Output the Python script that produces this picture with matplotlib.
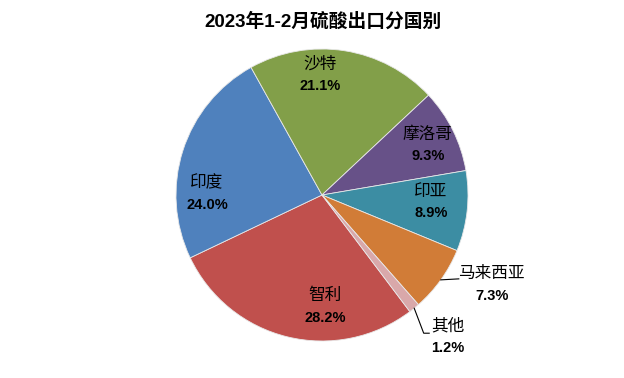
import numpy as np
import matplotlib
matplotlib.use("Agg")
import matplotlib.pyplot as plt

# ---- data ----
title = "2023年1-2月硫酸出口分国别"
categories = ["智利", "印度", "沙特", "摩洛哥", "印亚", "马来西亚", "其他"]
shares = [28.2, 24.0, 21.1, 9.3, 8.9, 7.3, 1.2]

# ---- style / layout ----
colors = ["#C0504D", "#4F81BD", "#829F49", "#675188", "#3C8DA3", "#D17C37", "#D9A8AA"]
W, H = 624, 378
cx, cy, R = 322, H - 195, 146
start = 307
# label centre offsets (polar: angle deg, radius px) from pie centre
label_polar = [(271.5, 112), (179.5, 115), (91, 120), (25.3, 117), (-3.7, 109), (-27.9, 192), (-48.4, 190)]

fig = plt.figure(figsize=(W / 100, H / 100), dpi=100)
ax = fig.add_axes([0, 0, 1, 1])
ax.set_xlim(0, W)
ax.set_ylim(0, H)
ax.axis("off")

wedges, _ = ax.pie(shares, colors=colors, startangle=start, counterclock=False,
                   center=(cx, cy), radius=R, normalize=True,
                   wedgeprops=dict(edgecolor="#e8e8e8", linewidth=0.6))
ax.set_xlim(0, W)
ax.set_ylim(0, H)
ax.set_aspect("equal")

cjk = ["Noto Sans CJK SC", "DejaVu Sans"]
num = ["Liberation Sans", "Noto Sans CJK SC"]

ax.text(323, H - 22, title, ha="center", va="center", fontsize=13.5,
        fontweight="bold", family=num)

for i, (cat, val) in enumerate(zip(categories, shares)):
    ang, r = label_polar[i]
    lx = cx + r * np.cos(np.radians(ang))
    ly = cy + r * np.sin(np.radians(ang))
    ax.text(lx, ly + 11, cat, ha="center", va="center", fontsize=12,
            fontweight="medium", family=cjk)
    ax.text(lx, ly - 11, f"{val:.1f}%", ha="center", va="center", fontsize=10.5,
            fontweight="bold", family=num)

# leader lines for the two small outside labels
w5 = wedges[5]
mid5 = np.radians((w5.theta1 + w5.theta2) / 2)
px, py = cx + R * np.cos(mid5), cy + R * np.sin(mid5)
ax.plot([px, px + 18], [py, py + 1], color="black", lw=0.8)

w6 = wedges[6]
mid6 = np.radians((w6.theta1 + w6.theta2) / 2)
px, py = cx + R * np.cos(mid6), cy + R * np.sin(mid6)
ax.plot([px, px + 9.5, px + 15], [py, py - 25, py - 25], color="black", lw=0.8)

fig.savefig("out.png", dpi=100)
